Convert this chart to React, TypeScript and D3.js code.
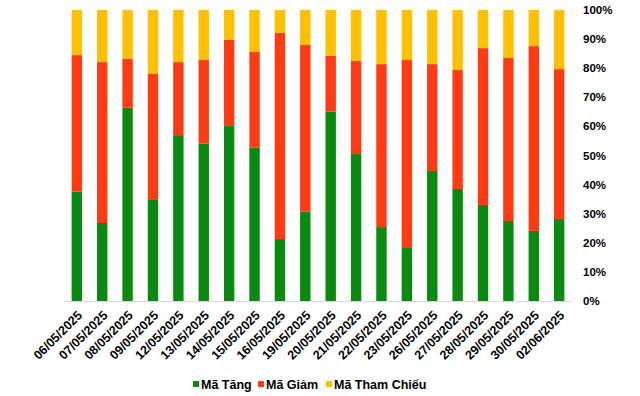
import React from "react";
import * as d3 from "d3";

const dates = ["06/05/2025","07/05/2025","08/05/2025","09/05/2025","12/05/2025","13/05/2025","14/05/2025","15/05/2025","16/05/2025","19/05/2025","20/05/2025","21/05/2025","22/05/2025","23/05/2025","26/05/2025","27/05/2025","28/05/2025","29/05/2025","30/05/2025","02/06/2025"];
const tang = [37.6,26.8,66.4,35.0,57.0,54.1,60.1,52.7,21.3,30.7,65.1,50.5,25.4,18.2,44.7,38.5,33.0,27.5,24.1,28.2];
const giam = [46.9,55.3,16.8,43.0,25.1,28.7,29.6,32.9,70.8,57.3,19.1,32.0,56.0,64.6,36.7,40.9,53.9,56.0,63.5,51.5];
const thamChieu = tang.map((t, i) => +(100 - t - giam[i]).toFixed(1));
const seriesNames = ["Mã Tăng", "Mã Giảm", "Mã Tham Chiếu"];
const colors = ["#0A8A10", "#FF3B14", "#FFC000"];
const yTicks = [0,10,20,30,40,50,60,70,80,90,100];

export default function App() {
  const W = 640, H = 396;
  const left = 64, right = 572, top = 10, bottom = 301;
  const x = d3.scaleBand().domain(dates).range([left, right]).paddingInner(0.59).paddingOuter(0.3);
  const y = d3.scaleLinear().domain([0, 100]).range([bottom, top]);
  const rows = dates.map((d, i) => ({ date: d, a: tang[i], b: giam[i], c: thamChieu[i] }));
  const stack = d3.stack<any>().keys(["a", "b", "c"])(rows);
  const font = "'Liberation Sans', Arial, sans-serif";
  const legendX = [193, 258, 326];
  return (
    <svg width={W} height={H} style={{ position: "absolute", left: 0, top: 0 }} fontFamily={font}>
      <rect width={W} height={H} fill="#fff" />
      {stack.map((s, si) => (
        <g key={si} fill={colors[si]}>
          {s.map((p, i) => (
            <rect key={i} x={x(dates[i])} width={x.bandwidth()} y={y(p[1])} height={y(p[0]) - y(p[1])} />
          ))}
        </g>
      ))}
      <line x1={left} x2={right} y1={bottom + 0.5} y2={bottom + 0.5} stroke="#d9d9d9" strokeWidth={1} />
      {yTicks.map(t => (
        <text key={t} x={583} y={y(t)} dy="0.35em" fontSize={11.5} fontWeight="bold" fill="#000">{t}%</text>
      ))}
      {dates.map(d => {
        const cx = (x(d) as number) + x.bandwidth() / 2 + 3;
        const cy = 313;
        return (
          <text key={d} x={cx} y={cy} transform={`rotate(-45 ${cx} ${cy})`} textAnchor="end" dy="0.35em" fontSize={12.5} fontWeight="bold" fill="#000">{d}</text>
        );
      })}
      {seriesNames.map((n, i) => (
        <g key={n}>
          <rect x={legendX[i]} y={381} width={6} height={6} fill={colors[i]} />
          <text x={legendX[i] + 8} y={385} dy="0.35em" fontSize={12.5} fontWeight="bold" fill="#000">{n}</text>
        </g>
      ))}
    </svg>
  );
}
